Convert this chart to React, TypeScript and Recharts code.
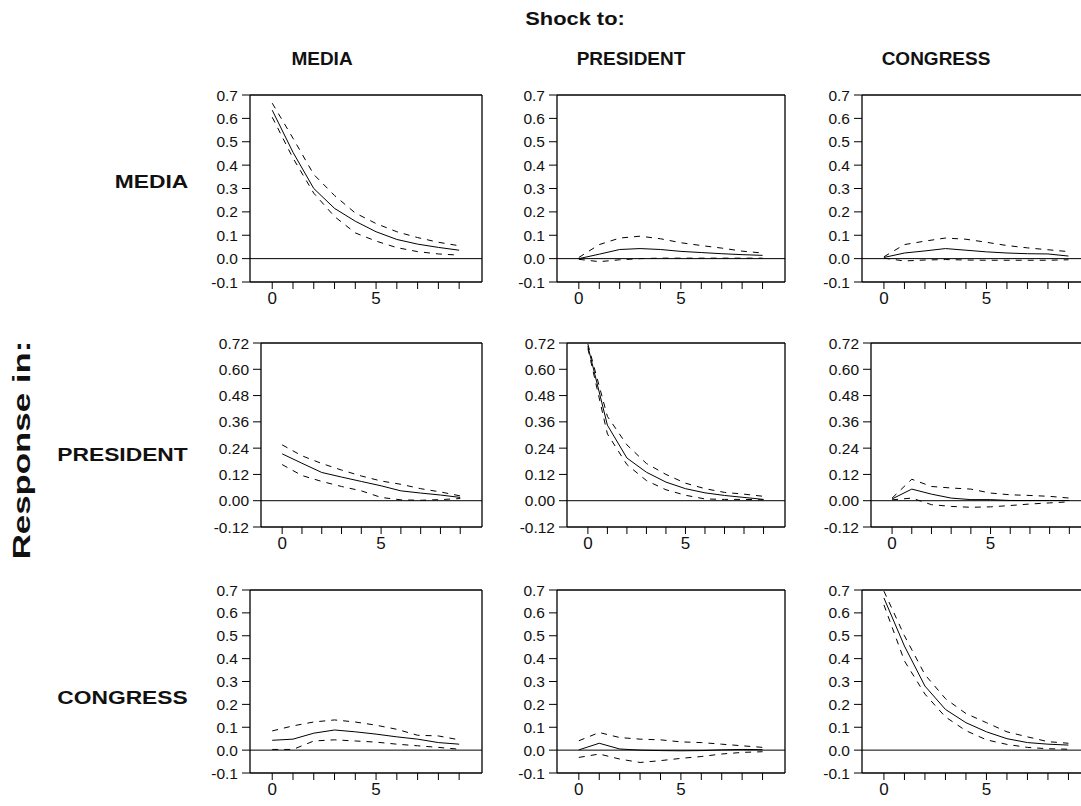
import React from "react";
import { LineChart, Line, XAxis, YAxis, ReferenceLine } from "recharts";

// ---------- data ----------
const periods = [0, 1, 2, 3, 4, 5, 6, 7, 8, 9];
const xTicks = [0, 1, 2, 3, 4, 5, 6, 7, 8, 9];
const xLabelTicks = [0, 5];
const yTicksA = [-0.1, 0, 0.1, 0.2, 0.3, 0.4, 0.5, 0.6, 0.7];
const yTicksB = [-0.12, 0, 0.12, 0.24, 0.36, 0.48, 0.6, 0.72];
const shockNames = ["MEDIA", "PRESIDENT", "CONGRESS"];
const responseNames = ["MEDIA", "PRESIDENT", "CONGRESS"];

// response MEDIA
const mediaMediaMid = [0.635, 0.455, 0.3, 0.215, 0.16, 0.115, 0.082, 0.062, 0.048, 0.036];
const mediaMediaUp = [0.665, 0.515, 0.36, 0.27, 0.195, 0.15, 0.115, 0.09, 0.07, 0.055];
const mediaMediaLo = [0.605, 0.43, 0.28, 0.18, 0.11, 0.075, 0.047, 0.03, 0.02, 0.015];

const mediaPresMid = [0.0, 0.019, 0.039, 0.043, 0.039, 0.031, 0.026, 0.021, 0.017, 0.014];
const mediaPresUp = [0.005, 0.06, 0.088, 0.096, 0.085, 0.068, 0.056, 0.045, 0.032, 0.024];
const mediaPresLo = [-0.003, -0.013, -0.005, 0.0, 0.002, 0.002, 0.002, 0.002, 0.002, 0.002];

const mediaCongMid = [0.005, 0.024, 0.033, 0.043, 0.036, 0.029, 0.024, 0.021, 0.02, 0.011];
const mediaCongUp = [0.008, 0.06, 0.075, 0.088, 0.083, 0.07, 0.056, 0.046, 0.038, 0.03];
const mediaCongLo = [0.002, -0.01, -0.006, -0.004, -0.006, -0.007, -0.007, -0.007, -0.007, -0.005];

// response PRESIDENT
const presMediaMid = [0.214, 0.171, 0.129, 0.108, 0.088, 0.068, 0.045, 0.035, 0.026, 0.015];
const presMediaUp = [0.255, 0.205, 0.17, 0.14, 0.113, 0.09, 0.075, 0.055, 0.04, 0.022];
const presMediaLo = [0.165, 0.115, 0.088, 0.065, 0.045, 0.015, 0.004, 0.002, 0.005, 0.01];

const presPresMid = [0.705, 0.345, 0.195, 0.13, 0.085, 0.055, 0.036, 0.024, 0.015, 0.006];
const presPresUp = [0.715, 0.385, 0.255, 0.17, 0.12, 0.08, 0.055, 0.038, 0.03, 0.02];
const presPresLo = [0.695, 0.305, 0.165, 0.092, 0.05, 0.025, 0.008, 0.006, 0.006, 0.004];

const presCongMid = [0.008, 0.053, 0.03, 0.012, 0.005, 0.005, 0.001, 0.001, 0.001, 0.001];
const presCongUp = [0.012, 0.098, 0.065, 0.058, 0.053, 0.035, 0.027, 0.024, 0.02, 0.012];
const presCongLo = [0.004, 0.012, -0.018, -0.026, -0.03, -0.028, -0.022, -0.015, -0.01, -0.005];

// response CONGRESS
const congMediaMid = [0.043, 0.048, 0.074, 0.088, 0.08, 0.07, 0.058, 0.048, 0.033, 0.026];
const congMediaUp = [0.084, 0.106, 0.123, 0.132, 0.123, 0.109, 0.091, 0.065, 0.062, 0.045];
const congMediaLo = [0.003, 0.003, 0.04, 0.045, 0.04, 0.035, 0.026, 0.019, 0.012, 0.004];

const congPresMid = [0.001, 0.03, 0.005, 0.0, -0.002, -0.003, -0.002, 0.001, 0.003, 0.002];
const congPresUp = [0.041, 0.077, 0.055, 0.048, 0.045, 0.036, 0.033, 0.026, 0.019, 0.012];
const congPresLo = [-0.032, -0.017, -0.039, -0.054, -0.046, -0.036, -0.028, -0.017, -0.01, -0.007];

const congCongMid = [0.665, 0.455, 0.28, 0.178, 0.12, 0.08, 0.05, 0.033, 0.026, 0.022];
const congCongUp = [0.695, 0.5, 0.33, 0.225, 0.16, 0.12, 0.08, 0.058, 0.037, 0.03];
const congCongLo = [0.635, 0.39, 0.245, 0.145, 0.085, 0.045, 0.025, 0.012, 0.006, 0.004];

// ---------- layout ----------
const X_DOMAIN: [number, number] = [-1.07, 10.1];
const ROW_BOX = [
  { top: 95, bottom: 282 },
  { top: 343, bottom: 527 },
  { top: 590, bottom: 773 },
];
const COL_BOX = [
  { left: [250, 261, 250], right: 482 },
  { left: [557, 567, 557], right: 785 },
  { left: [862, 871, 862], right: 1091 },
];
const YW = 70;
const MT = 14;
const MR = 4;
const XH = 40;
const FONT = "'Liberation Sans', Arial, sans-serif";

type PanelProps = {
  mid: number[];
  up: number[];
  lo: number[];
  row: number;
  col: number;
};

function Panel({ mid, up, lo, row, col }: PanelProps) {
  const data = periods.map((t, i) => ({ t, mid: mid[i], up: up[i], lo: lo[i] }));
  const isB = row === 1;
  const yTicks = isB ? yTicksB : yTicksA;
  const yDomain: [number, number] = isB ? [-0.12, 0.72] : [-0.1, 0.7];
  const L = COL_BOX[col].left[row];
  const R = COL_BOX[col].right;
  const T = ROW_BOX[row].top;
  const B = ROW_BOX[row].bottom;
  const w = R - L + YW + MR;
  const h = B - T + MT + XH;
  const yTickStyle = { fontSize: 15.5, fill: "#111", fontFamily: FONT };
  const xTickStyle = { fontSize: 17, fill: "#111", fontFamily: FONT };
  return (
    <div style={{ position: "absolute", left: L - YW, top: T - MT }}>
      <LineChart width={w} height={h} data={data} margin={{ top: MT, right: MR, bottom: 0, left: 0 }}>
        <XAxis
          dataKey="t"
          type="number"
          domain={X_DOMAIN}
          ticks={xTicks}
          height={XH}
          axisLine={{ stroke: "#000", strokeWidth: 1.3 }}
          tickLine={{ stroke: "#000" }}
          tickSize={7}
          tickMargin={3}
          tick={xTickStyle}
          tickFormatter={(v: number) => (xLabelTicks.includes(v) ? String(v) : "")}
          interval={0}
        />
        <YAxis
          type="number"
          domain={yDomain}
          ticks={yTicks}
          width={YW}
          axisLine={{ stroke: "#000", strokeWidth: 1.3 }}
          tickLine={{ stroke: "#000" }}
          tickSize={8}
          tickMargin={4}
          tick={yTickStyle}
          tickFormatter={(v: number) => (isB ? v.toFixed(2) : v.toFixed(1))}
          interval={0}
        />
        <ReferenceLine y={yDomain[1]} stroke="#000" strokeWidth={1.3} />
        <ReferenceLine x={X_DOMAIN[1]} stroke="#000" strokeWidth={1.3} />
        <ReferenceLine y={0} stroke="#000" strokeWidth={1} />
        <Line type="linear" dataKey="up" stroke="#000" strokeWidth={1} strokeDasharray="6 6" dot={false} isAnimationActive={false} />
        <Line type="linear" dataKey="lo" stroke="#000" strokeWidth={1} strokeDasharray="6 6" dot={false} isAnimationActive={false} />
        <Line type="linear" dataKey="mid" stroke="#000" strokeWidth={1} dot={false} isAnimationActive={false} />
      </LineChart>
    </div>
  );
}

const panels = [
  [
    [mediaMediaMid, mediaMediaUp, mediaMediaLo],
    [mediaPresMid, mediaPresUp, mediaPresLo],
    [mediaCongMid, mediaCongUp, mediaCongLo],
  ],
  [
    [presMediaMid, presMediaUp, presMediaLo],
    [presPresMid, presPresUp, presPresLo],
    [presCongMid, presCongUp, presCongLo],
  ],
  [
    [congMediaMid, congMediaUp, congMediaLo],
    [congPresMid, congPresUp, congPresLo],
    [congCongMid, congCongUp, congCongLo],
  ],
];

const headerCenters = [322, 631, 936];
const rowLabelY = [181, 454, 697];

export default function App() {
  const bold: React.CSSProperties = { position: "absolute", fontFamily: FONT, fontWeight: "bold", color: "#111", whiteSpace: "nowrap", lineHeight: 1 };
  return (
    <div style={{ position: "absolute", left: 0, top: 0, width: 1081, height: 806, overflow: "hidden", background: "#fff" }}>
      <div style={{ ...bold, fontSize: 19, left: 575, top: 18, transform: "translate(-50%, -50%) scaleX(1.15)" }}>Shock to:</div>
      {shockNames.map((n, i) => (
        <div key={"h" + i} style={{ ...bold, fontSize: 19, left: headerCenters[i], top: 58, transform: "translate(-50%, -50%)" }}>{n}</div>
      ))}
      {responseNames.map((n, i) => (
        <div key={"r" + i} style={{ ...bold, fontSize: 19, right: 1081 - 188, top: rowLabelY[i], transform: "translateY(-50%) scaleX(1.2)", transformOrigin: "right center" }}>{n}</div>
      ))}
      <div style={{ ...bold, fontSize: 24, left: 22, top: 450, transform: "translate(-50%, -50%) rotate(-90deg) scaleX(1.45)" }}>Response in:</div>
      {panels.map((rowArr, r) =>
        rowArr.map((p, c) => <Panel key={r + "-" + c} mid={p[0]} up={p[1]} lo={p[2]} row={r} col={c} />)
      )}
    </div>
  );
}
